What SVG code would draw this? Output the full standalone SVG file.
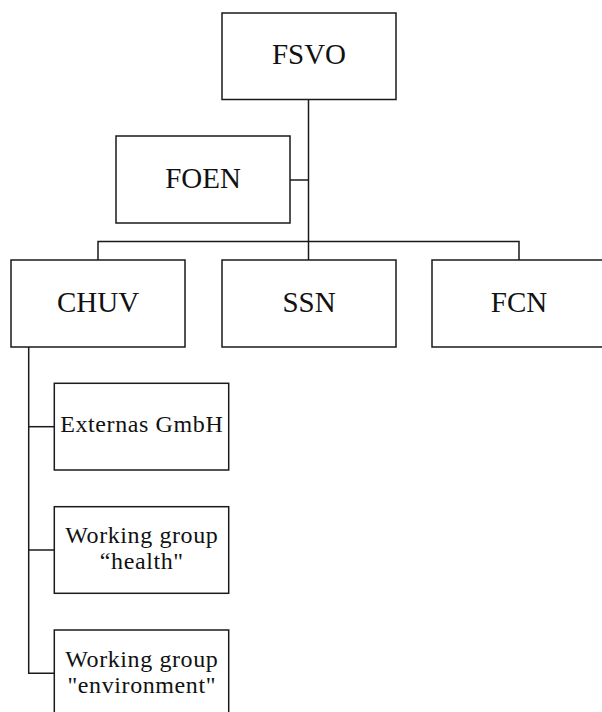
<svg xmlns="http://www.w3.org/2000/svg" width="602" height="712" viewBox="0 0 602 712">
<style>
.box{fill:#fff;stroke:#1a1a1a;stroke-width:1.5}
.ln{fill:none;stroke:#1a1a1a;stroke-width:1.5}
.big{font-family:"Liberation Serif","Times New Roman",serif;font-size:29px;fill:#111;text-anchor:middle}
.sm{font-family:"Liberation Serif","Times New Roman",serif;font-size:24px;letter-spacing:0.6px;fill:#111;text-anchor:middle}
</style>
<rect width="602" height="712" fill="#fff"/>
<g id="connectors">
<path class="ln" d="M308.5 99.5V260"/>
<path class="ln" d="M290 180H308.5"/>
<path class="ln" d="M98 260V241.5H519V260"/>
<path class="ln" d="M28.7 347V673.3H54"/>
<path class="ln" d="M28.7 426.7H54"/>
<path class="ln" d="M28.7 550H54"/>
</g>
<g id="FSVO"><rect class="box" x="222" y="13" width="174" height="86.5"/><text class="big" x="309" y="64">FSVO</text></g>
<g id="FOEN"><rect class="box" x="116" y="136" width="174" height="87"/><text class="big" x="203" y="187.7">FOEN</text></g>
<g id="CHUV"><rect class="box" x="11" y="260" width="174" height="87"/><text class="big" x="98" y="311.7">CHUV</text></g>
<g id="SSN"><rect class="box" x="222" y="260" width="174" height="87"/><text class="big" x="309" y="311.7">SSN</text></g>
<g id="FCN"><rect class="box" x="432" y="260" width="174" height="87"/><text class="big" x="519" y="311.7">FCN</text></g>
<g id="Externas"><rect class="box" x="54.3" y="383.3" width="174.4" height="86.7"/><text class="sm" x="141.8" y="432.3">Externas GmbH</text></g>
<g id="WGhealth"><rect class="box" x="54.3" y="506.7" width="174.4" height="86.6"/><text class="sm" x="141.8" y="543.3">Working group</text><text class="sm" x="141.8" y="569.3">“health"</text></g>
<g id="WGenv"><rect class="box" x="54.3" y="630" width="174.4" height="87"/><text class="sm" x="141.8" y="666.7">Working group</text><text class="sm" x="141.8" y="692.7">"environment"</text></g>
</svg>
